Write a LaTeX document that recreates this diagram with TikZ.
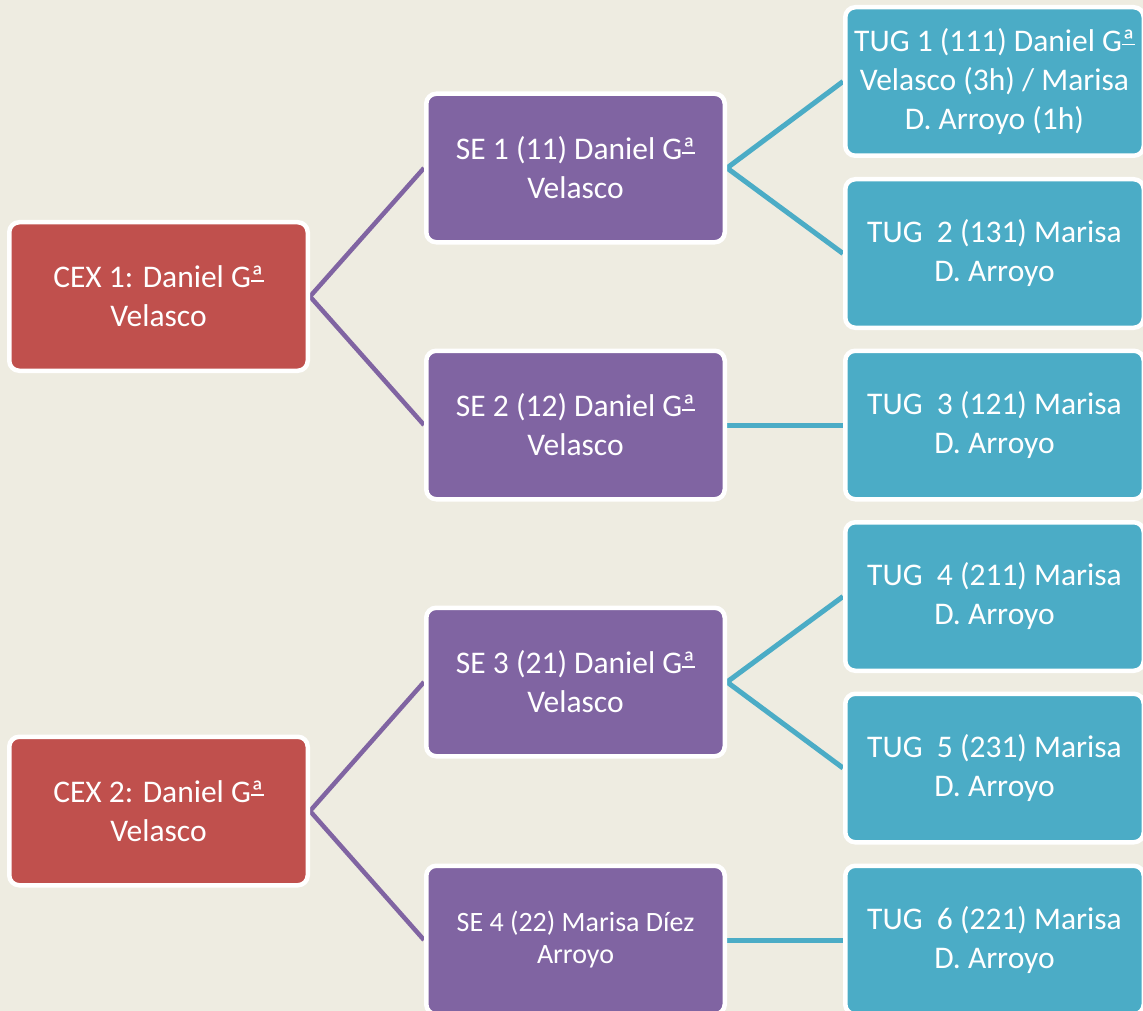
\documentclass[tikz,border=0pt]{standalone}
\usepackage{fontspec}
\setmainfont{Carlito}
\definecolor{bgtan}{HTML}{EEECE1}
\definecolor{cexred}{HTML}{C0504D}
\definecolor{sepurple}{HTML}{8064A2}
\definecolor{tugteal}{HTML}{4BACC6}
\newlength\ordwidth
\newcommand\gordinal{\settowidth\ordwidth{ª}\rlap{ª}\raisebox{0.2em}{\rule{\ordwidth}{0.05em}}}
\pgfdeclarelayer{bg}
\pgfdeclarelayer{lines}
\pgfsetlayers{bg,lines,main}
\tikzset{
  box/.style={draw=white, line width=4.5pt, rounded corners=10pt,
    minimum width=298.5pt, minimum height=148.5pt, inner sep=2pt,
    align=center, text=white, font=\fontsize{31.5}{39}\selectfont},
  cexbox/.style={box, fill=cexred},
  sebox/.style={box, fill=sepurple},
  tugbox/.style={box, fill=tugteal},
  purpleline/.style={draw=sepurple, line width=4.5pt},
  tealline/.style={draw=tugteal, line width=5pt},
}
\begin{document}
\begin{tikzpicture}[x=1pt, y=-1pt]
\useasboundingbox (0,0) rectangle (1143,1011);
\begin{pgfonlayer}{bg}
  \fill[bgtan] (0,0) rectangle (1143,1011);
\end{pgfonlayer}

\node[cexbox] (cex1) at (158.5,296.5) {CEX 1: Daniel G\gordinal\\Velasco};
\node[cexbox] (cex2) at (158.5,811) {CEX 2: Daniel G\gordinal\\Velasco};

\node[sebox] (se1) at (575.5,168) {SE 1 (11) Daniel G\gordinal\\Velasco};
\node[sebox] (se2) at (575.5,425) {SE 2 (12) Daniel G\gordinal\\Velasco};
\node[sebox] (se3) at (575.5,682) {SE 3 (21) Daniel G\gordinal\\Velasco};
\node[sebox, font=\fontsize{28}{32}\selectfont] (se4) at (575.5,940) {SE 4 (22) Marisa Díez\\Arroyo};

\node[tugbox] (tug1) at (994.5,81.5) {TUG 1 (111) Daniel G\gordinal\\Velasco (3h) / Marisa\\D. Arroyo (1h)};
\node[tugbox] (tug2) at (994.5,253.5) {TUG~~2 (131) Marisa\\D. Arroyo};
\node[tugbox] (tug3) at (994.5,425) {TUG~~3 (121) Marisa\\D. Arroyo};
\node[tugbox] (tug4) at (994.5,596.5) {TUG~~4 (211) Marisa\\D. Arroyo};
\node[tugbox] (tug5) at (994.5,768) {TUG~~5 (231) Marisa\\D. Arroyo};
\node[tugbox] (tug6) at (994.5,940) {TUG~~6 (221) Marisa\\D. Arroyo};

\begin{pgfonlayer}{lines}
  \draw[purpleline] (se1.west) -- (cex1.east) -- (se2.west);
  \draw[purpleline] (se3.west) -- (cex2.east) -- (se4.west);
  \draw[tealline] (tug1.west) -- (se1.east) -- (tug2.west);
  \draw[tealline] (se2.east) -- (tug3.west);
  \draw[tealline] (tug4.west) -- (se3.east) -- (tug5.west);
  \draw[tealline] (se4.east) -- (tug6.west);
\end{pgfonlayer}
\end{tikzpicture}
\end{document}
